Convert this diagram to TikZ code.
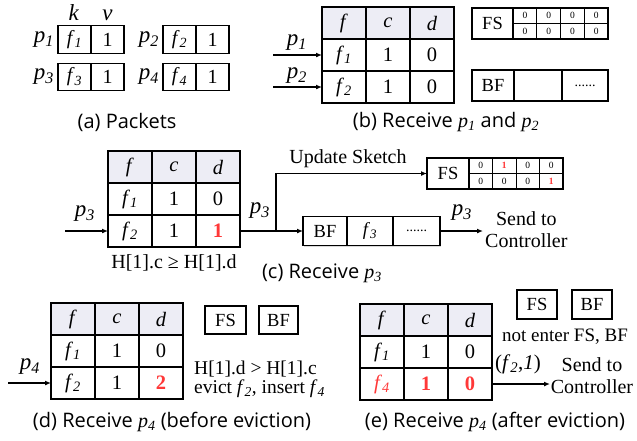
\documentclass[tikz,border=0pt]{standalone}
\usepackage{fontspec}
\setmainfont{Liberation Serif}
\newfontfamily\capfont{Open Sans}
\usetikzlibrary{arrows.meta,positioning,shadows}
\definecolor{hdrfill}{RGB}{237,237,245}
\definecolor{hot}{RGB}{255,56,56}
\newcommand\sub[2]{\textit{#1}\textsubscript{\textit{#2}}}
\newcommand\hotb[1]{\textcolor{hot}{\bfseries #1}}
% table row: [style]{prefix}{x}{y}{a}{b}{c}
\newcommand\trow[7][]{%
  \node[cell,#1] (#2a) at (#3,#4) {#5};
  \node[cell,#1,right=0pt of #2a] (#2b) {#6};
  \node[cell,#1,right=0pt of #2b] (#2c) {#7};}
% FS row of 4 small cells: {prefix}{x}{y}{w}{v1}{v2}{v3}{v4}
\newcommand\fsrow[8]{%
  \node[fscell,minimum width=#4] (#1a) at (#2,#3) {#5};
  \node[fscell,minimum width=#4,right=0pt of #1a] (#1b) {#6};
  \node[fscell,minimum width=#4,right=0pt of #1b] (#1c) {#7};
  \node[fscell,minimum width=#4,right=0pt of #1c] (#1d) {#8};}
\tikzset{
  cell/.style={draw,line width=1.2pt,minimum width=44pt,minimum height=32pt,
    inner sep=0pt,outer sep=0pt,font=\fontsize{20.5}{22}\selectfont},
  hdr/.style={fill=hdrfill},
  pcell/.style={draw,line width=1.2pt,minimum width=33pt,minimum height=27.5pt,
    inner sep=0pt,outer sep=0pt,font=\fontsize{20}{22}\selectfont},
  sbox/.style={draw,line width=1.2pt,fill=white,inner sep=0pt,outer sep=0pt,
    font=\fontsize{18.5}{21}\selectfont,
    drop shadow={shadow xshift=1.3pt,shadow yshift=-1.3pt,opacity=0.3}},
  fscell/.style={draw,line width=0.8pt,fill=white,inner sep=0pt,outer sep=0pt,
    minimum height=15.5pt,font=\fontsize{9.5}{11}\selectfont},
  lbl/.style={inner sep=0pt,font=\fontsize{20}{23}\selectfont},
  plab/.style={inner sep=0pt,font=\fontsize{23}{25}\selectfont},
  captext/.style={inner sep=0pt,font=\capfont\fontsize{20}{23}\selectfont},
  arr/.style={line width=1.2pt,-{Latex[length=6pt,width=5pt]}},
  ln/.style={line width=1.2pt}
}
\begin{document}
\begin{tikzpicture}[x=1pt,y=-1pt]
\useasboundingbox (0,0) rectangle (637,440);

% ---------------- (a) Packets
\node[plab,anchor=base] (kl) at (74,20) {\textit{k}};
\node[plab,anchor=base] (vl) at (107.5,20) {\textit{v}};
\node[pcell] (a1k) at (74.5,39.5) {\sub{f}{1}};
\node[pcell,right=0pt of a1k] (a1v) {1};
\node[pcell] (a2k) at (179.5,39.5) {\sub{f}{2}};
\node[pcell,right=0pt of a2k] (a2v) {1};
\node[pcell] (a3k) at (74.5,77) {\sub{f}{3}};
\node[pcell,right=0pt of a3k] (a3v) {1};
\node[pcell] (a4k) at (179.5,77) {\sub{f}{4}};
\node[pcell,right=0pt of a4k] (a4v) {1};
\node[plab,left=4pt of a1k] (ap1) {\sub{p}{1}};
\node[plab,left=4pt of a2k] (ap2) {\sub{p}{2}};
\node[plab,left=4pt of a3k] (ap3) {\sub{p}{3}};
\node[plab,left=4pt of a4k] (ap4) {\sub{p}{4}};
\node[captext] (capa) at (127,122) {(a) Packets};

% ---------------- (b)
\trow[hdr]{bh}{344}{23}{\textit{f}}{\textit{c}}{\textit{d}}
\trow{bra}{344}{55}{\sub{f}{1}}{1}{0}
\trow{brb}{344}{87}{\sub{f}{2}}{1}{0}
\coordinate (bin1) at (273,55);
\coordinate (bin2) at (273,87);
\draw[arr] (bin1) -- (braa.west);
\draw[arr] (bin2) -- (brba.west);
\node[plab] (bp1) at (297,43) {\sub{p}{1}};
\node[plab] (bp2) at (297,76) {\sub{p}{2}};
% FS (b)
\node[sbox,minimum width=41pt,minimum height=31pt] (bFS) at (492.5,23.5) {FS};
\fsrow{bFSu}{524.9}{15.75}{23.75pt}{0}{0}{0}{0}
\fsrow{bFSl}{524.9}{31.25}{23.75pt}{0}{0}{0}{0}
\draw[line width=1.2pt] (bFS.north west) rectangle (bFSld.south east);
% BF (b)
\node[sbox,minimum width=42pt,minimum height=31pt] (bBFa) at (493,85.5) {BF};
\node[sbox,minimum width=48pt,minimum height=31pt,right=0pt of bBFa] (bBFb) {};
\node[sbox,minimum width=46pt,minimum height=31pt,right=0pt of bBFb,font=\fontsize{14}{16}\selectfont] (bBFc) {......};
\node[captext] (capb) at (446,122) {(b) Receive {\fontsize{20}{23}\rmfamily\sub{p}{1}} and {\fontsize{20}{23}\rmfamily\sub{p}{2}}};

% ---------------- (c)
\trow[hdr]{ch}{130}{167}{\textit{f}}{\textit{c}}{\textit{d}}
\trow{cra}{130}{199}{\sub{f}{1}}{1}{0}
\trow{crb}{130}{231}{\sub{f}{2}}{1}{\hotb{1}}
\coordinate (cin) at (65,231);
\draw[arr] (cin) -- (crba.west);
\node[plab] (cp3a) at (85,214) {\sub{p}{3}};
\node[lbl] (chtxt) at (174,263) {H[1].c ≥ H[1].d};
% BF (c)
\node[sbox,minimum width=44pt,minimum height=29pt] (cBFa) at (325,231) {BF};
\node[sbox,minimum width=46pt,minimum height=29pt,right=0pt of cBFa] (cBFb) {\sub{f}{3}};
\node[sbox,minimum width=47pt,minimum height=29pt,right=0pt of cBFb,font=\fontsize{14}{16}\selectfont] (cBFc) {......};
% FS (c)
\node[sbox,minimum width=42pt,minimum height=31pt] (cFS) at (448,173.5) {FS};
\fsrow{cFSu}{480.75}{165.75}{23.5pt}{0}{\hotb{1}}{0}{0}
\fsrow{cFSl}{480.75}{181.25}{23.5pt}{0}{0}{0}{\hotb{1}}
\draw[line width=1.2pt] (cFS.north west) rectangle (cFSld.south east);
\coordinate (cbr) at (276,231);
\draw[arr] (crbc.east) -- (cBFa.west);
\draw[arr] (cbr) |- (cFS.west);
\node[plab] (cp3b) at (260,211) {\sub{p}{3}};
\node[lbl] (cupd) at (348,159) {Update Sketch};
\coordinate (cout) at (483,231);
\draw[arr] (cBFc.east) -- (cout);
\node[plab] (cp3c) at (462,213) {\sub{p}{3}};
\node[lbl,align=center,anchor=west,font=\fontsize{20}{22}\selectfont] (csend) at (485,230) {Send to\\Controller};
\node[captext] (capc) at (322,273) {(c) Receive {\fontsize{20}{23}\rmfamily\sub{p}{3}}};

% ---------------- (d)
\trow[hdr]{dh}{73}{319}{\textit{f}}{\textit{c}}{\textit{d}}
\trow{dra}{73}{351}{\sub{f}{1}}{1}{0}
\trow{drb}{73}{383}{\sub{f}{2}}{1}{\hotb{2}}
\coordinate (din) at (8,383);
\draw[arr] (din) -- (drba.west);
\node[plab] (dp4) at (30,367) {\sub{p}{4}};
\node[sbox,minimum width=41pt,minimum height=28pt] (dFS) at (225.5,320) {FS};
\node[sbox,minimum width=39pt,minimum height=28pt] (dBF) at (278.5,320) {BF};
\node[lbl,anchor=west,align=left,font=\fontsize{19.5}{19}\selectfont] (dtxt) at (194,379) {H[1].d > H[1].c\\evict \sub{f}{2}, insert \sub{f}{4}};
\node[captext] (capd) at (172,422) {(d) Receive {\fontsize{20}{23}\rmfamily\sub{p}{4}} (before eviction)};

% ---------------- (e)
\trow[hdr]{eh}{382}{320}{\textit{f}}{\textit{c}}{\textit{d}}
\trow{era}{382}{352}{\sub{f}{1}}{1}{0}
\trow{erb}{382}{384}{\textcolor{hot}{\sub{f}{4}}}{\hotb{1}}{\hotb{0}}
\node[sbox,minimum width=40pt,minimum height=29pt] (eFS) at (537,304.5) {FS};
\node[sbox,minimum width=40pt,minimum height=29pt] (eBF) at (592,304.5) {BF};
\node[lbl,font=\fontsize{19}{22}\selectfont] (etxt) at (565,337) {not enter FS, BF};
\node[lbl,font=\fontsize{21}{23}\selectfont] (epair) at (518,364) {(\sub{f}{2},\textit{1})};
\coordinate (eout) at (550,384);
\draw[arr] (erbc.east) -- (eout);
\node[lbl,align=center,font=\fontsize{20}{22}\selectfont] (esend) at (592,376) {Send to\\Controller};
\node[captext] (cape) at (495,422) {(e) Receive {\fontsize{20}{23}\rmfamily\sub{p}{4}} (after eviction)};
\end{tikzpicture}
\end{document}
